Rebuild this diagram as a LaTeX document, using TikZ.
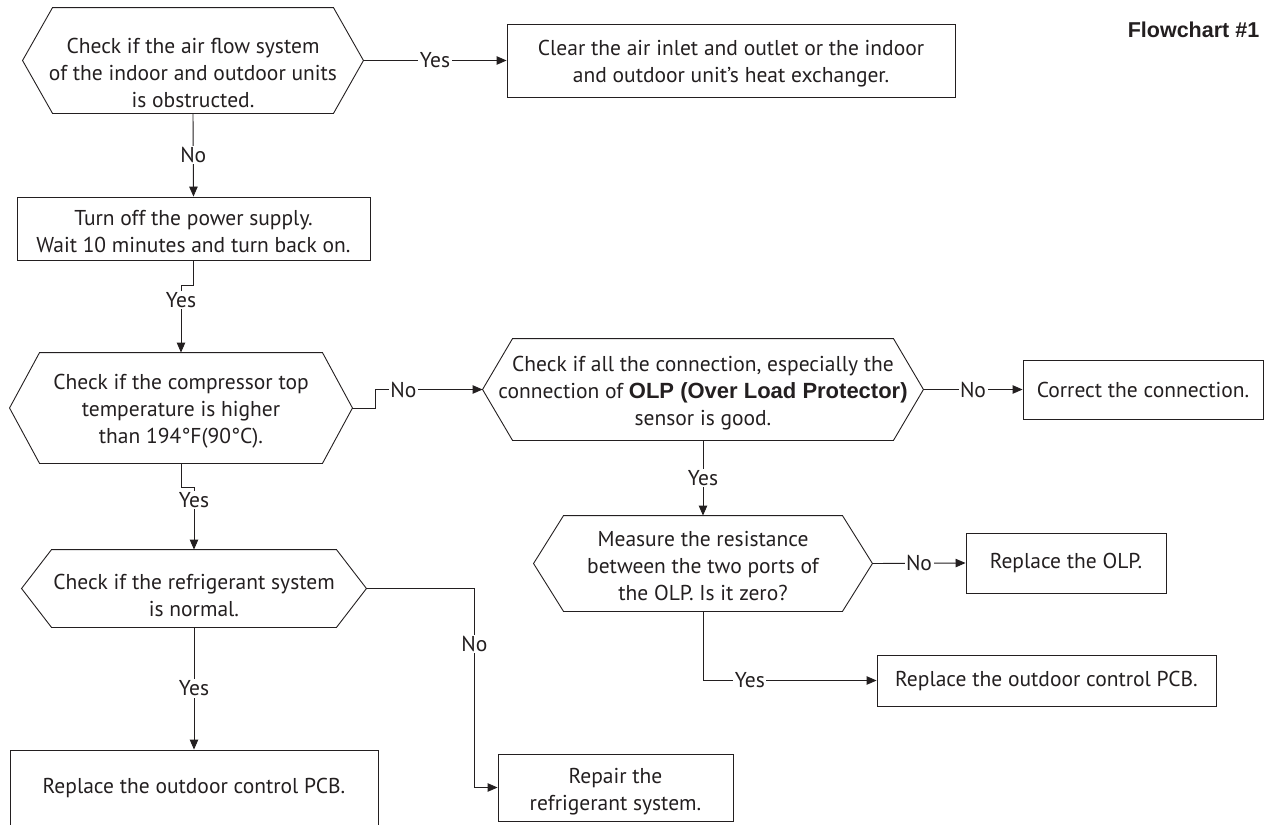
\documentclass[tikz,border=0pt]{standalone}
\usepackage{fontspec}
\setmainfont{PT Sans}
\newfontfamily\arialfont{Liberation Sans}
\usetikzlibrary{arrows.meta, positioning}

\definecolor{ink}{HTML}{231F20}
% push the first line of a node down
\newcommand{\dn}[1]{\rule{0pt}{#1}}

\begin{document}
\begin{tikzpicture}[
    x=1pt, y=-1pt,
    line width=0.9pt,
    draw=ink, text=ink,
    font=\fontsize{21.5}{27}\selectfont,
    box/.style={draw, inner sep=0pt, align=center},
    hexa/.style={inner sep=0pt, align=center},
    lbl/.style={fill=white, inner sep=1.5pt},
    >={Triangle[length=10pt, width=8.5pt]}
]

\useasboundingbox (0,0) rectangle (1270,825);
\clip (0,0) rectangle (1270,825);

\node[anchor=base east, font=\arialfont\bfseries\fontsize{21.5}{25}\selectfont] (title) at (1263,37) {Flowchart \#1};

% decisions
\node[hexa, minimum width=340pt, minimum height=105pt] (d1) at (193,60.5)
    {\dn{40pt}Check if the air flow system\\of the indoor and outdoor units\\is obstructed.};
\node[hexa, minimum width=342pt, minimum height=110pt] (d2) at (181,408)
    {\dn{22pt}Check if the compressor top\\temperature is higher\\than 194°F(90°C).};
\node[hexa, minimum width=440pt, minimum height=101pt] (d3) at (703,389.5)
    {\dn{23pt}Check if all the connection, especially the\\connection of {\arialfont\bfseries\fontsize{22}{27}\selectfont OLP (Over Load Protector)}\\sensor is good.};
\node[hexa, minimum width=344pt, minimum height=77pt] (d4) at (194,588.5)
    {\dn{30pt}Check if the refrigerant system\\is normal.};
\node[hexa, minimum width=338pt, minimum height=95pt] (d5) at (703,563.5)
    {\dn{21pt}Measure the resistance\\between the two ports of\\the OLP. Is it zero?};

% actions
\node[box, minimum width=448pt, minimum height=73pt] (a1) at (731,60.5)
    {\dn{21pt}Clear the air inlet and outlet or the indoor\\and outdoor unit’s heat exchanger.};
\node[box, minimum width=353pt, minimum height=63pt] (a2) at (193.5,228.5)
    {\dn{22pt}Turn off the power supply.\\Wait 10 minutes and turn back on.};
\node[box, minimum width=240pt, minimum height=59pt] (a3) at (1143,389.5)
    {Correct the connection.};
\node[box, minimum width=200pt, minimum height=60pt] (a4) at (1066,563)
    {Replace the OLP.};
\node[box, minimum width=339pt, minimum height=51pt] (a5) at (1046.5,680.5)
    {Replace the outdoor control PCB.};
\node[box, minimum width=368pt, minimum height=76pt] (a6) at (194,788)
    {Replace the outdoor control PCB.};
\node[box, minimum width=235pt, minimum height=67pt] (a7) at (615.5,787.5)
    {\dn{24pt}Repair the\\refrigerant system.};

% hexagon outlines
\foreach \n in {d1,d2,d3,d4,d5}
    \draw (\n.west) -- ([xshift=30pt]\n.north west) -- ([xshift=-30pt]\n.north east)
        -- (\n.east) -- ([xshift=-30pt]\n.south east) -- ([xshift=30pt]\n.south west) -- cycle;

% connectors
\draw[->] (d1.east) -- node[lbl] {Yes} (a1.west);
\draw[->] (d1.south) -- node[lbl] {No} (a2.north);
\draw[->] (a2.south) -- ++(0,25) -| node[lbl, pos=0.61] {Yes} (d2.north);
\draw[->] (d2.east) -- ++(23,0) |- node[lbl, pos=0.63] {No} (d3.west);
\draw[->] (d3.east) -- node[lbl] {No} (a3.west);
\draw[->] (d3.south) -- node[lbl] {Yes} (d5.north);
\draw[->] (d5.east) -- node[lbl] {No} (a4.west);
\draw[->] (d5.south) |- node[lbl, pos=0.635] {Yes} (a5.west);
\draw[->] (d2.south) -- ++(0,24) -| node[lbl, pos=0.6] {Yes} (d4.north);
\draw[->] (d4.south) -- node[lbl] {Yes} (a6.north);
\draw[->] (d4.east) -- ++(108,0) |- node[lbl, pos=0.14] {No} (a7.west);

\end{tikzpicture}
\end{document}
